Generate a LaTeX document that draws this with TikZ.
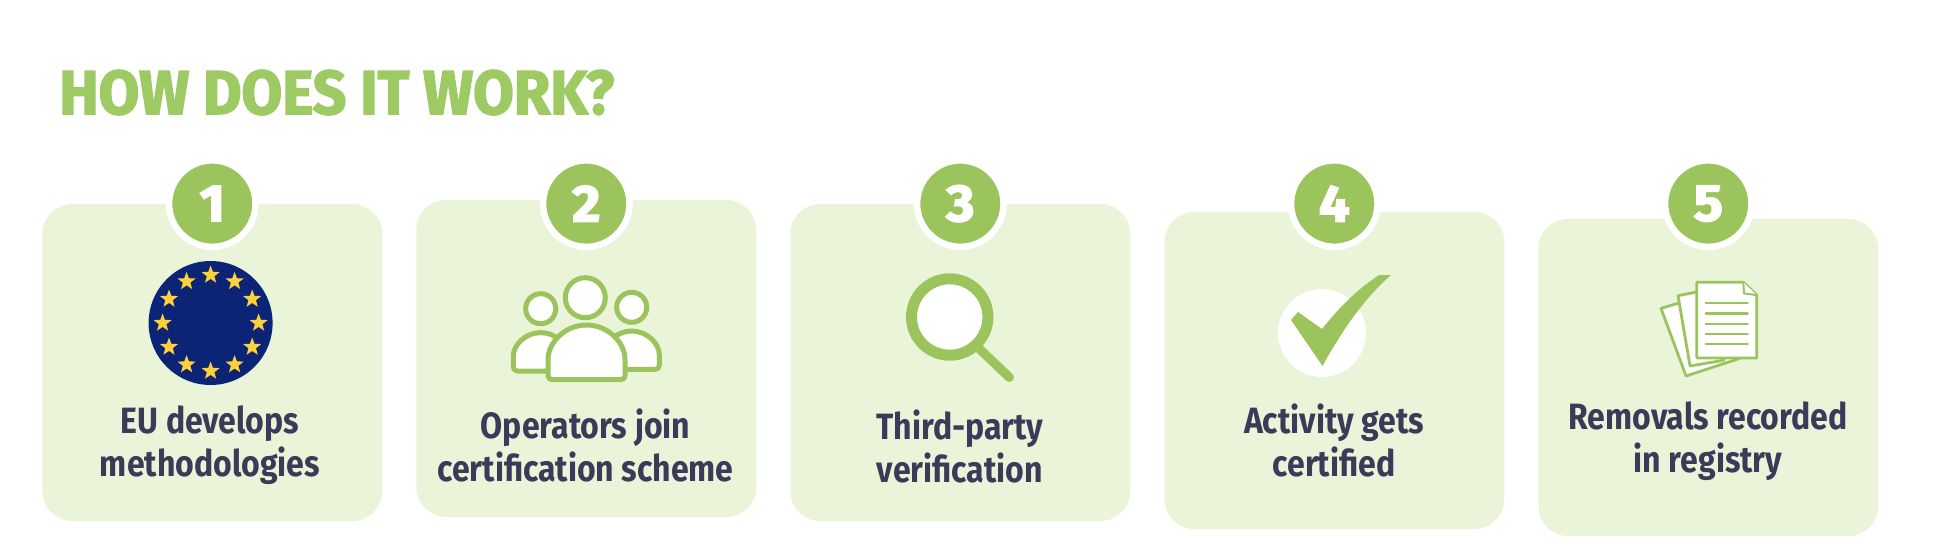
\documentclass[tikz,border=0pt]{standalone}
\usepackage{fontspec}
\setmainfont{Fira Sans}[FakeStretch=0.875]
\newfontfamily\headfont{Fira Sans}[FakeStretch=0.95,BoldFeatures={FakeBold=2.5}]
\newfontfamily\numfont{Fira Sans}[FakeStretch=1.05,BoldFeatures={FakeBold=3}]
\usetikzlibrary{shapes.geometric,calc}
\definecolor{leaf}{RGB}{155,197,92}
\definecolor{titlegreen}{RGB}{158,202,100}
\definecolor{pale}{RGB}{233,244,216}
\definecolor{ink}{RGB}{57,59,89}
\definecolor{euBlue}{RGB}{12,36,118}
\definecolor{euGold}{RGB}{252,209,58}

\begin{document}
\begin{tikzpicture}[x=0.5pt,y=-0.5pt,node distance=187pt,
    cardbox/.style={shape=rectangle,fill=pale,draw=none,rounded corners=15pt,
                    minimum width=170pt,minimum height=158.5pt,inner sep=0pt},
    stepnum/.style={shape=circle,fill=leaf,draw=white,line width=3.25pt,minimum size=43.25pt,
                    inner sep=0pt,text=white,font=\numfont\bfseries\fontsize{26}{26}\selectfont},
    steptext/.style={align=center,text=ink,font=\bfseries\fontsize{18.3}{21.5}\selectfont},
    iconhead/.style={shape=circle,fill=white,draw=leaf,line width=2.5pt,inner sep=0pt},
    iconline/.style={fill=white,draw=leaf,line width=2.5pt,line join=round,rounded corners=2pt},
    pageline/.style={fill=white,draw=leaf,line width=1.4pt,line join=round},
    eustar/.style={shape=star,star points=5,star point ratio=2.4,fill=euGold,draw=none,
                   minimum size=9.5pt,inner sep=0pt}]
  \useasboundingbox (0,0) rectangle (1942,558);

  \node[anchor=base west,inner sep=0pt,text=titlegreen,font=\headfont\bfseries\fontsize{31}{31}\selectfont] (title) at (59,114) {HOW DOES IT WORK?};

  % cards
  \node[cardbox] (A) at (212.3,362.5) {};
  \node[cardbox] (B) [right of=A,yshift=2pt] {};
  \node[cardbox] (C) [right of=B,yshift=-2pt] {};
  \node[cardbox] (D) [right of=C,yshift=-4pt] {};
  \node[cardbox] (E) [right of=D,yshift=-3.5pt] {};

  % numbers
  \node[stepnum] (n1) at (A.north) {1};
  \node[stepnum] (n2) [right of=n1] {2};
  \node[stepnum] (n3) [right of=n2] {3};
  \node[stepnum] (n4) [right of=n3] {4};
  \node[stepnum] (n5) [right of=n4] {5};

  % flag
  \node[shape=circle,fill=euBlue,draw=none,minimum size=62pt,inner sep=0pt] (flag) at (210.6,323) {};
  \foreach \i in {1,...,12}
    \node[eustar] (s\i) at ($(flag)+(30*\i:24pt)$) {};

  % people
  \draw[iconline] (513.3,371) -- (513.3,360) arc[start angle=180,end angle=360,radius=27.4] -- (568,371) -- cycle;
  \draw[iconline] (659.3,369.3) -- (659.3,358.6) arc[start angle=360,end angle=180,radius=27.6] -- (604,369.3) -- cycle;
  \draw[iconline] (548,379.7) -- (548,363.5) arc[start angle=180,end angle=360,radius=38.5] -- (625,379.7) -- cycle;
  \node[iconhead,minimum size=20pt] (headM) at (585.3,297.7) {};
  \node[iconhead,minimum size=15pt] (headL) at (540.7,308.7) {};
  \node[iconhead,minimum size=15pt] (headR) at (631.7,307.3) {};

  % magnifier
  \coordinate (grip) at (1009.3,377.3);
  \node[iconhead,line width=5.5pt,minimum size=38.2pt] (lens) at (949.7,317) {};
  \draw[leaf,line width=4.6pt,line cap=round] (lens.-47) -- (grip);

  % tick
  \node[shape=circle,fill=white,draw=none,minimum size=44pt,inner sep=0pt] (disc) at (1322,333) {};
  \fill[leaf] (1391,275) -- (1379,275) .. controls (1355,291) and (1338,309) .. (1322,329)
    -- (1298,312) -- (1291,320) -- (1322.5,366) .. controls (1345,325) and (1367,296) .. (1391,275) -- cycle;

  % pages
  \draw[pageline] (1678,303.3) -- (1661,308.3) -- (1686,376) -- (1740,358.3);
  \draw[pageline] (1696.7,292) -- (1678,295.7) -- (1690,366) -- (1725,360);
  \draw[pageline] (1696.7,282.3) -- (1743.3,282.3) -- (1756.7,295) -- (1756.7,358) -- (1696.7,358) -- cycle;
  \draw[pageline,line width=1pt] (1743.3,282.3) -- (1744,293.5) -- (1756.7,295);
  \foreach \y in {303,313.3,323.7,333.7,343.7}
    \draw[leaf,line width=1.2pt,line cap=round] (1705.7,\y) -- (1747.7,\y);

  % labels
  \node[steptext] (t1) at (210,445) {EU develops\\methodologies};
  \node[steptext] (t2) at (585.5,445.5) {Operators join\\certification scheme};
  \node[steptext] (t3) at (960,446) {Third-party\\verification};
  \node[steptext] (t4) at (1334,440.5) {Activity gets\\certified};
  \node[steptext] (t5) at (1708,441) {Removals recorded\\in registry};
\end{tikzpicture}
\end{document}
